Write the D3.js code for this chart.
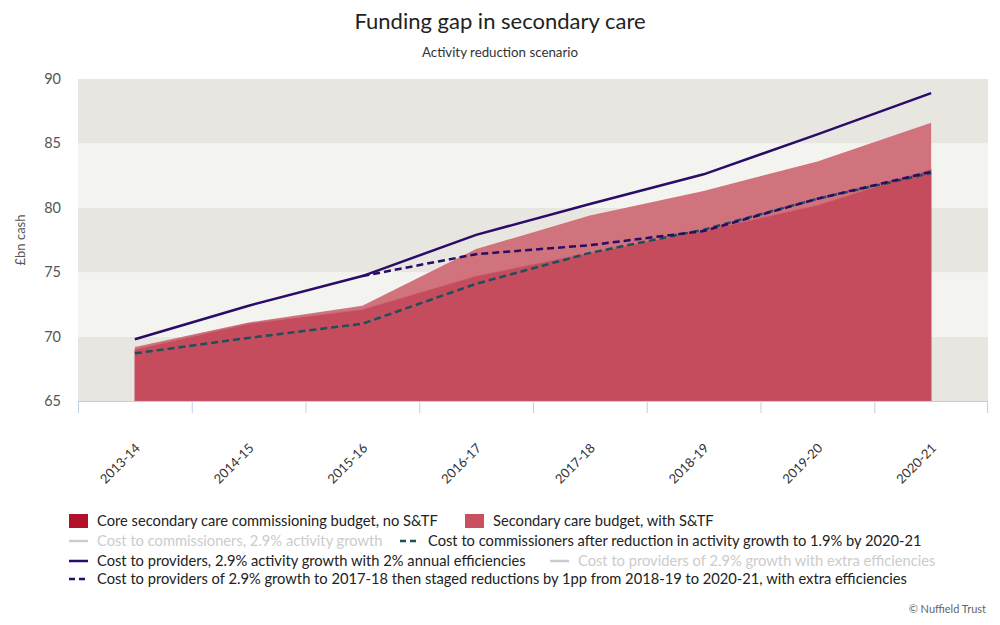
<!DOCTYPE html>
<html>
<head>
<meta charset="utf-8">
<script src="https://cdn.jsdelivr.net/npm/d3@7"></script>
<style>
  body { margin: 0; background: #fff; }
  svg { display: block; font-family: Lato, 'Open Sans', sans-serif; }
</style>
</head>
<body>
<div id="chart"></div>
<script>
// Funding gap in secondary care - activity reduction scenario

const years = ['2013-14', '2014-15', '2015-16', '2016-17', '2017-18', '2018-19', '2019-20', '2020-21'];
const yTicks = [65, 70, 75, 80, 85, 90];

// £bn cash
const coreBudget = [69.0, 71.0, 72.1, 74.7, 76.5, 78.2, 80.2, 83.0];
const budgetWithSTF = [69.2, 71.1, 72.4, 76.8, 79.4, 81.3, 83.6, 86.6];
const providersCost = [69.8, 72.4, 74.7, 77.9, 80.3, 82.6, 85.7, 88.9];
const providersStaged = [null, null, 74.7, 76.4, 77.1, 78.2, 80.7, 82.8];
const commissionersReduced = [68.7, 69.9, 71.0, 74.1, 76.5, 78.3, 80.7, 82.7];

const width = 1000;
const height = 625;
const plot = { left: 78, right: 988, top: 79, bottom: 401 };

const svg = d3.select('#chart')
  .append('svg')
  .attr('width', width)
  .attr('height', height);

const x = d3.scaleBand()
  .domain(years)
  .range([plot.left, plot.right])
  .padding(0);
const cx = d => x(d) + x.bandwidth() / 2;

const y = d3.scaleLinear()
  .domain([65, 90])
  .range([plot.bottom, plot.top]);

// alternating bands
for (let i = 0; i < yTicks.length - 1; i++) {
  svg.append('rect')
    .attr('x', plot.left)
    .attr('width', plot.right - plot.left)
    .attr('y', y(yTicks[i + 1]))
    .attr('height', y(yTicks[i]) - y(yTicks[i + 1]))
    .attr('fill', i % 2 === 0 ? '#e8e6e1' : '#f3f3ef');
}

// areas
const rows = years.map((yr, i) => ({ yr, core: coreBudget[i], stf: budgetWithSTF[i] }));

svg.append('path')
  .datum(rows)
  .attr('d', d3.area().x(d => cx(d.yr)).y0(d => y(d.core)).y1(d => y(d.stf)))
  .attr('fill', '#d0737d');

svg.append('path')
  .datum(rows)
  .attr('d', d3.area().x(d => cx(d.yr)).y0(y(65)).y1(d => y(d.core)))
  .attr('fill', '#c44c5c')
  .attr('stroke', '#c85a69')
  .attr('stroke-width', 0.8);

// lines
function drawLine(values, color, dash) {
  const pts = years.map((yr, i) => ({ yr, v: values[i] }));
  svg.append('path')
    .datum(pts)
    .attr('d', d3.line().defined(d => d.v != null).x(d => cx(d.yr)).y(d => y(d.v)))
    .attr('fill', 'none')
    .attr('stroke', color)
    .attr('stroke-width', 2.5)
    .attr('stroke-dasharray', dash || null);
}

drawLine(commissionersReduced, '#1d4f5c', '7,4');
drawLine(providersCost, '#2a0c66');
drawLine(providersStaged, '#2a0c66', '7,4');

// y axis labels
svg.append('g')
  .selectAll('text')
  .data(yTicks)
  .enter().append('text')
  .attr('x', 61)
  .attr('y', d => y(d) + 5)
  .attr('text-anchor', 'end')
  .attr('font-size', 14.5)
  .attr('fill', '#555')
  .text(d => d);

svg.append('text')
  .attr('transform', 'translate(25,240) rotate(-90)')
  .attr('text-anchor', 'middle')
  .attr('font-size', 13)
  .attr('fill', '#555')
  .text('£bn cash');

// x axis
const xAxis = svg.append('g');
xAxis.append('line')
  .attr('x1', plot.left).attr('x2', plot.right)
  .attr('y1', plot.bottom + 0.5).attr('y2', plot.bottom + 0.5)
  .attr('stroke', '#c0d0e3');
xAxis.selectAll('.tick')
  .data(years.concat(['end']))
  .enter().append('line')
  .attr('x1', d => d === 'end' ? plot.right - 0.5 : x(d) + 0.5)
  .attr('x2', d => d === 'end' ? plot.right - 0.5 : x(d) + 0.5)
  .attr('y1', plot.bottom)
  .attr('y2', plot.bottom + 12)
  .attr('stroke', '#c0d0e3');
xAxis.selectAll('.lbl')
  .data(years)
  .enter().append('text')
  .attr('transform', d => `translate(${cx(d) + 6},${plot.bottom + 48}) rotate(-45)`)
  .attr('text-anchor', 'end')
  .attr('font-size', 13)
  .attr('fill', '#333')
  .text(d => d);

// titles
svg.append('text')
  .attr('x', width / 2).attr('y', 29)
  .attr('text-anchor', 'middle')
  .attr('font-size', 22)
  .attr('fill', '#222')
  .text('Funding gap in secondary care');

svg.append('text')
  .attr('x', width / 2).attr('y', 57)
  .attr('text-anchor', 'middle')
  .attr('font-size', 13.3)
  .attr('fill', '#333')
  .text('Activity reduction scenario');

// legend
const legendItems = [
  { label: 'Core secondary care commissioning budget, no S&TF', type: 'box', color: '#b0102a', x: 69, y: 521 },
  { label: 'Secondary care budget, with S&TF', type: 'box', color: '#c9505f', x: 465, y: 521 },
  { label: 'Cost to commissioners, 2.9% activity growth', type: 'line', color: '#cccccc', hidden: true, x: 69, y: 541 },
  { label: 'Cost to commissioners after reduction in activity growth to 1.9% by 2020-21', type: 'dash', color: '#1d4f5c', x: 400, y: 541 },
  { label: 'Cost to providers, 2.9% activity growth with 2% annual efficiencies', type: 'line', color: '#2a0c66', x: 69, y: 561 },
  { label: 'Cost to providers of 2.9% growth with extra efficiencies', type: 'line', color: '#cccccc', hidden: true, x: 550, y: 561 },
  { label: 'Cost to providers of 2.9% growth to 2017-18 then staged reductions by 1pp from 2018-19 to 2020-21, with extra efficiencies', type: 'dash', color: '#2a0c66', x: 69, y: 579 }
];

const lg = svg.append('g').attr('font-size', 14.7);
legendItems.forEach(it => {
  if (it.type === 'box') {
    lg.append('rect')
      .attr('x', it.x).attr('y', it.y - 7)
      .attr('width', 19).attr('height', 14)
      .attr('fill', it.color);
  } else {
    lg.append('line')
      .attr('x1', it.x).attr('x2', it.x + 19)
      .attr('y1', it.y).attr('y2', it.y)
      .attr('stroke', it.color)
      .attr('stroke-width', 2.5)
      .attr('stroke-dasharray', it.type === 'dash' ? '6,4' : null);
  }
  lg.append('text')
    .attr('x', it.x + 28)
    .attr('y', it.y + 5)
    .attr('fill', it.hidden ? '#cccccc' : '#222')
    .text(it.label);
});

svg.append('text')
  .attr('x', 986).attr('y', 613)
  .attr('text-anchor', 'end')
  .attr('font-size', 11)
  .attr('fill', '#666')
  .text('© Nuffield Trust');
</script>
</body>
</html>
